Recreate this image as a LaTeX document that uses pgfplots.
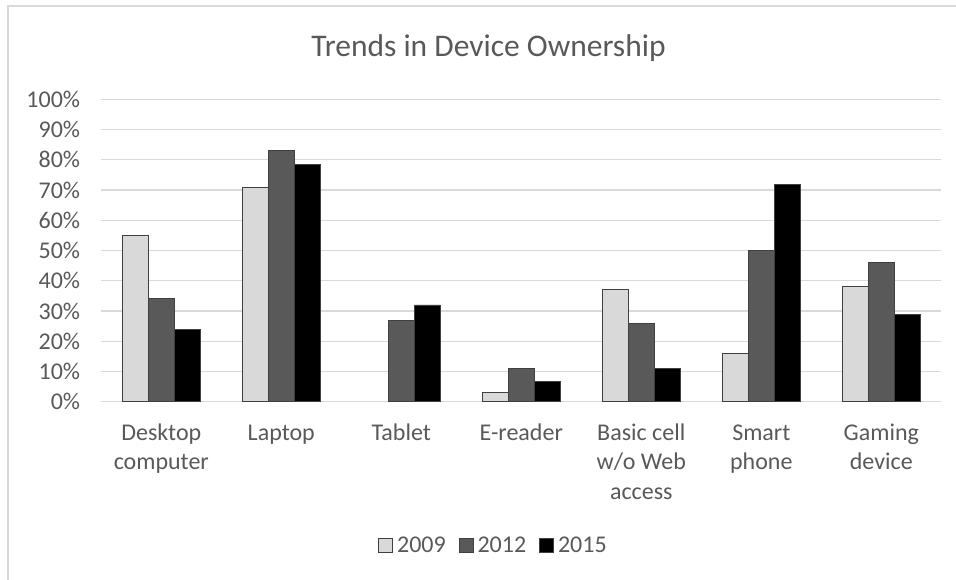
\documentclass[border=0pt]{standalone}
\usepackage{pgfplots}
\pgfplotsset{compat=1.18}
\usepackage{pgfplotstable}
\usepackage{fontspec}
\setmainfont{Carlito}
\definecolor{txt}{HTML}{595959}
\definecolor{gridc}{HTML}{D9D9D9}
\definecolor{c09}{HTML}{D9D9D9}
\definecolor{c12}{HTML}{595959}
\definecolor{c15}{HTML}{000000}
\definecolor{edge}{HTML}{404040}
\newcommand{\lab}[1]{\begin{tabular}[t]{@{}c@{}}#1\end{tabular}}

\pgfplotstableread{
x y09 y12 y15
0 55 34 24
1 71 83 78.4
2 nan 27 32
3 3 11 6.8
4 37 26 11
5 16 50 71.7
6 38 46 29
}\datatable

\begin{document}
\begin{tikzpicture}[x=1pt,y=1pt]
\path[use as bounding box] (0,0) rectangle (956,-579);
\draw[gridc, line width=1.5pt] (8,-590) -- (8,-6) -- (970,-6);
\node[txt, font=\fontsize{31.5}{36}\selectfont, anchor=base] at (488.5,-56.5) {Trends in Device Ownership};
\begin{axis}[
  at={(101.3pt,-401.7pt)}, anchor=south west,
  scale only axis, width=840pt, height=302.4pt,
  xmin=-0.5, xmax=6.5, ymin=0, ymax=100,
  ybar, bar width=0.2167,
  xtick={0,...,6},
  xticklabels={{\lab{Desktop\\computer}},{\lab{Laptop}},{\lab{Tablet}},{\lab{E-reader}},{\lab{Basic cell\\w/o Web\\access}},{\lab{Smart\\phone}},{\lab{Gaming\\device}}},
  ytick={0,10,...,100},
  yticklabel={\pgfmathprintnumber{\tick}\%},
  /pgf/number format/assume math mode=true,
  major tick length=0pt,
  axis x line*=bottom, axis y line*=left,
  x axis line style={draw=gridc, line width=1.2pt, -},
  y axis line style={draw=none},
  ymajorgrids, major grid style={draw=gridc, line width=1.2pt},
  ticklabel style={font=\fontsize{24}{29.5}\selectfont, text=txt},
  xticklabel style={anchor=base, inner sep=0pt},
  yticklabel style={anchor=east, inner sep=0pt},
  x tick label style={yshift=-38.3pt},
  y tick label style={xshift=-21pt},
  legend columns=-1,
  legend style={at={(0.4657,-0.474)}, anchor=center, draw=none, fill=none,
    font=\fontsize{24}{29}\selectfont, text=txt,
    nodes={inner xsep=0pt, inner ysep=0pt},
    /tikz/every odd column/.append style={column sep=4pt},
    /tikz/every even column/.append style={column sep=13pt}},
  legend image code/.code={\draw[#1, line width=0.8pt] (0pt,-7pt) rectangle (14pt,7pt);},
]
\addplot[fill=c09, draw=edge, line width=0.8pt, bar shift=-0.2167] table[x=x,y=y09] {\datatable};
\addplot[fill=c12, draw=edge, line width=0.8pt, bar shift=0] table[x=x,y=y12] {\datatable};
\addplot[fill=c15, draw=edge, line width=0.8pt, bar shift=0.2167] table[x=x,y=y15] {\datatable};
\legend{2009,2012,2015}
\end{axis}
\end{tikzpicture}
\end{document}
